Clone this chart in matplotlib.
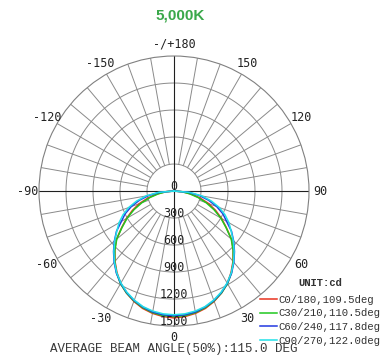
import numpy as np
import matplotlib
matplotlib.use("Agg")
import matplotlib.pyplot as plt

# ---------------- data ----------------
title = "5,000K"
angles_deg = list(range(-90, 95, 5))
c0_180 = [0, 95, 195, 300, 410, 510, 610, 710, 835, 930, 1020, 1105, 1185, 1250, 1305, 1350, 1380, 1400,
          1410,
          1400, 1380, 1350, 1305, 1250, 1185, 1105, 1020, 930, 835, 710, 610, 510, 410, 300, 195, 95, 0]
c30_210 = [0, 85, 175, 275, 380, 490, 600, 705, 830, 930, 1025, 1112, 1190, 1250, 1300, 1342, 1372, 1390,
           1395,
           1390, 1372, 1342, 1300, 1250, 1190, 1112, 1025, 930, 830, 705, 600, 490, 380, 275, 175, 85, 0]
c60_240 = [0, 155, 285, 400, 505, 600, 675, 780, 865, 950, 1035, 1115, 1185, 1245, 1295, 1335, 1365, 1380,
           1385,
           1380, 1365, 1335, 1295, 1245, 1185, 1115, 1035, 950, 865, 780, 675, 600, 505, 400, 285, 155, 0]
c90_270 = [0, 175, 315, 430, 535, 625, 705, 775, 860, 945, 1030, 1110, 1180, 1240, 1290, 1330, 1355, 1370,
           1375,
           1370, 1355, 1330, 1290, 1240, 1180, 1110, 1030, 945, 860, 775, 705, 625, 535, 430, 315, 175, 0]
series_labels = ["C0/180,109.5deg", "C30/210,110.5deg", "C60/240,117.8deg", "C90/270,122.0deg"]
series_colors = ["#e8321e", "#1fc81f", "#2238e0", "#22e0e8"]
ring_values = [300, 600, 900, 1200, 1500]
angle_ticks = [0, 30, 60, 90, 120, 150, 180, -150, -120, -90, -60, -30]
angle_labels = ["0", "30", "60", "90", "120", "150", "-/+180", "-150", "-120", "-90", "-60", "-30"]
unit_text = "UNIT:cd"
footer = "AVERAGE BEAM ANGLE(50%):115.0 DEG"

# ---------------- figure ----------------
fig = plt.figure(figsize=(3.85, 3.6), dpi=100)
ax = fig.add_axes([0.1013, 0.0944, 0.7013, 0.75], projection="polar")
ax.set_theta_zero_location("S")
ax.set_theta_direction(1)
rmax = ring_values[-1]
ax.set_ylim(0, rmax)
ax.grid(False)
ax.set_xticks([])
ax.set_yticks([])
ax.spines["polar"].set_color("#808080")
ax.spines["polar"].set_linewidth(0.8)

grid_c = "#8a8a8a"
full = np.linspace(0, 2 * np.pi, 721)
for r in ring_values[:-1]:
    ax.plot(full, np.full_like(full, r), color=grid_c, lw=0.7, zorder=1)
for d in range(0, 360, 10):
    t = np.deg2rad(d)
    ax.plot([t, t], [ring_values[0], rmax], color=grid_c, lw=0.7, zorder=1)
for d in (0, 90, 180, 270):
    t = np.deg2rad(d)
    ax.plot([t, t], [0, rmax], color="#202020", lw=0.8, zorder=1.5)

th = np.deg2rad(angles_deg)
handles = []
for vals, lab, col in zip([c0_180, c30_210, c60_240, c90_270], series_labels, series_colors):
    h, = ax.plot(th, vals, color=col, lw=1.1, label=lab, zorder=3)
    handles.append(h)

mono = "DejaVu Sans Mono"
for a, lab in zip(angle_ticks, angle_labels):
    ax.text(np.deg2rad(a), 1630, lab, ha="center", va="center", fontsize=8.5,
            family=mono, color="#222222", clip_on=False)

ax.text(np.pi, 55, "0", ha="center", va="center", fontsize=8.5, family=mono, color="#222222")
for r in ring_values:
    ax.text(0, r - 45, str(r), ha="center", va="center", fontsize=8.5, family=mono,
            color="#222222", zorder=4)

fig.text(180 / 385, 1 - 15 / 360, title, ha="center", va="center", fontsize=11,
         fontweight="bold", family="Liberation Sans", color="#3aa84a")

fig.text(174 / 385, 1 - 349 / 360, footer, ha="center", va="center", fontsize=9,
         family="Liberation Mono", color="#3a3a3a")

leg = fig.legend(handles=handles, labels=series_labels, loc="upper left",
                 bbox_to_anchor=(260 / 385, 1 - 278 / 360), frameon=False,
                 prop={"family": "Liberation Mono", "size": 7.7},
                 title=unit_text, title_fontproperties={"family": "Liberation Mono", "size": 7.6, "weight": "bold"},
                 handlelength=1.55, handletextpad=0.2, labelspacing=0.33, borderpad=0, borderaxespad=0)
leg._legend_box.sep = 5
for t in leg.get_texts():
    t.set_color("#333333")
leg.get_title().set_color("#333333")

fig.savefig("out.png", dpi=100)
